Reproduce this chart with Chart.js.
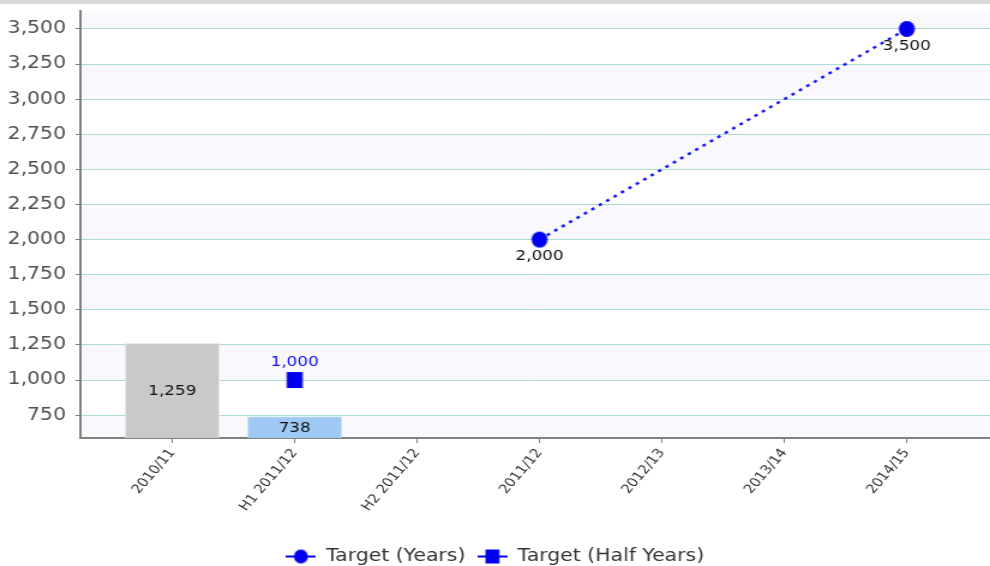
<!DOCTYPE html>
<html><head><meta charset="utf-8">
<script src="https://cdn.jsdelivr.net/npm/chart.js@4"></script>
<style>html,body{margin:0;padding:0;background:#fff;overflow:hidden}#wrap{width:990px;height:566px;position:relative}canvas{display:block}</style>
</head><body><div id="wrap"><canvas id="c" width="825" height="566" style="width:990px;height:566px"></canvas></div>
<script>
const categories = ['2010/11', 'H1 2011/12', 'H2 2011/12', '2011/12', '2012/13', '2013/14', '2014/15'];
const actualValues = [1259, 738, null, null, null, null, null];
const targetYears = [null, null, null, 2000, null, null, 3500];
const targetHalfYears = [null, 1000, null, null, null, null, null];
const yTickValues = [750, 1000, 1250, 1500, 1750, 2000, 2250, 2500, 2750, 3000, 3250, 3500];

// The picture is horizontally stretched by this factor; marker images compensate for it.
const STRETCH = 1.2;
const toPoints = arr => arr.map((v, i) => ({x: i, y: v})).filter(p => p.y !== null);
const fmt = v => v.toLocaleString('en-US');
const BLUE = '#0000ee';

function makeMarker(shape, withLine, size) {
  const h = size, w = withLine ? Math.round(30 / STRETCH) : Math.ceil(size / STRETCH) + 2;
  const c = document.createElement('canvas');
  c.width = w; c.height = h + 2;
  const g = c.getContext('2d');
  const cx = w / 2, cy = (h + 2) / 2;
  if (withLine) {
    g.strokeStyle = BLUE; g.lineWidth = 2;
    g.beginPath(); g.moveTo(0, cy); g.lineTo(w, cy); g.stroke();
  }
  g.fillStyle = BLUE;
  const rx = size / 2 / STRETCH, ry = size / 2;
  if (shape === 'circle') { g.beginPath(); g.ellipse(cx, cy, rx, ry, 0, 0, Math.PI * 2); g.fill(); }
  else { g.fillRect(cx - rx, cy - ry, rx * 2, ry * 2); }
  return c;
}

const bgPlugin = {
  id: 'bg',
  beforeDraw(chart) {
    const ctx = chart.ctx, a = chart.chartArea, y = chart.scales.y;
    ctx.save();
    ctx.fillStyle = '#d9d9d9';
    ctx.fillRect(0, 0, chart.width, 4);
    ctx.fillStyle = '#f9f9fd';
    ctx.fillRect(a.left, a.top, a.right - a.left, a.bottom - a.top);
    ctx.fillStyle = '#ffffff';
    for (let i = 0; i < yTickValues.length - 1; i += 2) {
      const y1 = Math.round(y.getPixelForValue(yTickValues[i + 1])), y0 = Math.round(y.getPixelForValue(yTickValues[i]));
      ctx.fillRect(a.left, y1, a.right - a.left, y0 - y1);
    }
    ctx.restore();
  }
};

const labelPlugin = {
  id: 'valLabels',
  afterDatasetsDraw(chart) {
    const ctx = chart.ctx, a = chart.chartArea;
    ctx.save();
    ctx.font = '14px "DejaVu Sans"';
    ctx.textAlign = 'center';
    ctx.textBaseline = 'middle';
    chart.data.datasets.forEach((ds, di) => {
      const meta = chart.getDatasetMeta(di);
      meta.data.forEach((el, i) => {
        const v = ds.data[i].y;
        ctx.fillStyle = ds.labelColor;
        if (ds.labelPos === 'center') {
          const top = Math.max(el.y, a.top), bot = Math.min(el.base, a.bottom);
          ctx.fillText(fmt(v), el.x, (top + bot) / 2 + 1);
        } else if (ds.labelPos === 'below') {
          ctx.fillText(fmt(v), el.x, el.y + 17);
        } else {
          ctx.fillText(fmt(v), el.x, el.y - 18);
        }
      });
    });
    ctx.restore();
  }
};

const legendMarkers = {1: makeMarker('circle', true, 14), 2: makeMarker('rect', true, 14)};

new Chart(document.getElementById('c'), {
  data: {
    datasets: [
      {
        type: 'bar', label: 'Actual', data: toPoints(actualValues),
        backgroundColor: ['#c9c9c9', '#9fc9f3'], borderColor: ['#dcdcdc', '#b3d5f7'], borderWidth: 1,
        barThickness: 78, labelPos: 'center', labelColor: '#111', order: 3
      },
      {
        type: 'line', label: 'Target (Years)', data: toPoints(targetYears),
        borderColor: '#1a1aff', borderWidth: 2.5, borderDash: [3, 4.5], backgroundColor: BLUE,
        pointStyle: makeMarker('circle', false, 16), pointRadius: 8, pointBorderWidth: 0,
        labelPos: 'below', labelColor: '#111', order: 1
      },
      {
        type: 'line', label: 'Target (Half Years)', data: toPoints(targetHalfYears),
        borderColor: BLUE, showLine: false, backgroundColor: BLUE,
        pointStyle: makeMarker('rect', false, 16), pointRadius: 8, pointBorderWidth: 0,
        labelPos: 'above', labelColor: '#1010ee', order: 2
      }
    ]
  },
  options: {
    responsive: false, animation: false, devicePixelRatio: 1,
    layout: {autoPadding: false, padding: {top: 11, left: 0, right: 0, bottom: -9}},
    scales: {
      x: {
        type: 'linear', min: -0.75, max: 6.68, offset: false,
        afterBuildTicks: s => { s.ticks = categories.map((c, i) => ({value: i})); },
        afterFit: s => { s.height = 100; s.paddingLeft = 0; s.paddingRight = 0; },
        ticks: {
          autoSkip: false, minRotation: 54, maxRotation: 54, color: '#333',
          font: {family: 'DejaVu Sans', size: 12.5},
          callback: v => categories[v]
        },
        grid: {drawOnChartArea: false, offset: false, tickColor: '#808080', tickLength: 5},
        border: {color: '#808080', width: 2}
      },
      y: {
        min: 587, max: 3628,
        afterBuildTicks: s => { s.ticks = yTickValues.map(v => ({value: v})); },
        afterFit: s => { s.width = 67; s.paddingTop = 0; s.paddingBottom = 0; },
        ticks: {color: '#505050', font: {family: 'DejaVu Sans', size: 17}, padding: 8, callback: v => fmt(v)},
        grid: {color: '#aadcd6', tickColor: '#808080', tickLength: 4},
        border: {color: '#808080', width: 2}
      }
    },
    plugins: {
      tooltip: {enabled: false},
      legend: {
        position: 'bottom',
        labels: {
          filter: item => item.datasetIndex !== 0,
          generateLabels: chart => Chart.defaults.plugins.legend.labels.generateLabels(chart)
            .map(l => Object.assign(l, {pointStyle: legendMarkers[l.datasetIndex] || l.pointStyle})),
          usePointStyle: true, pointStyleWidth: 25, boxHeight: 16,
          color: '#333', font: {family: 'DejaVu Sans', size: 17}, padding: 10
        }
      }
    }
  },
  plugins: [bgPlugin, labelPlugin]
});
</script></body></html>
